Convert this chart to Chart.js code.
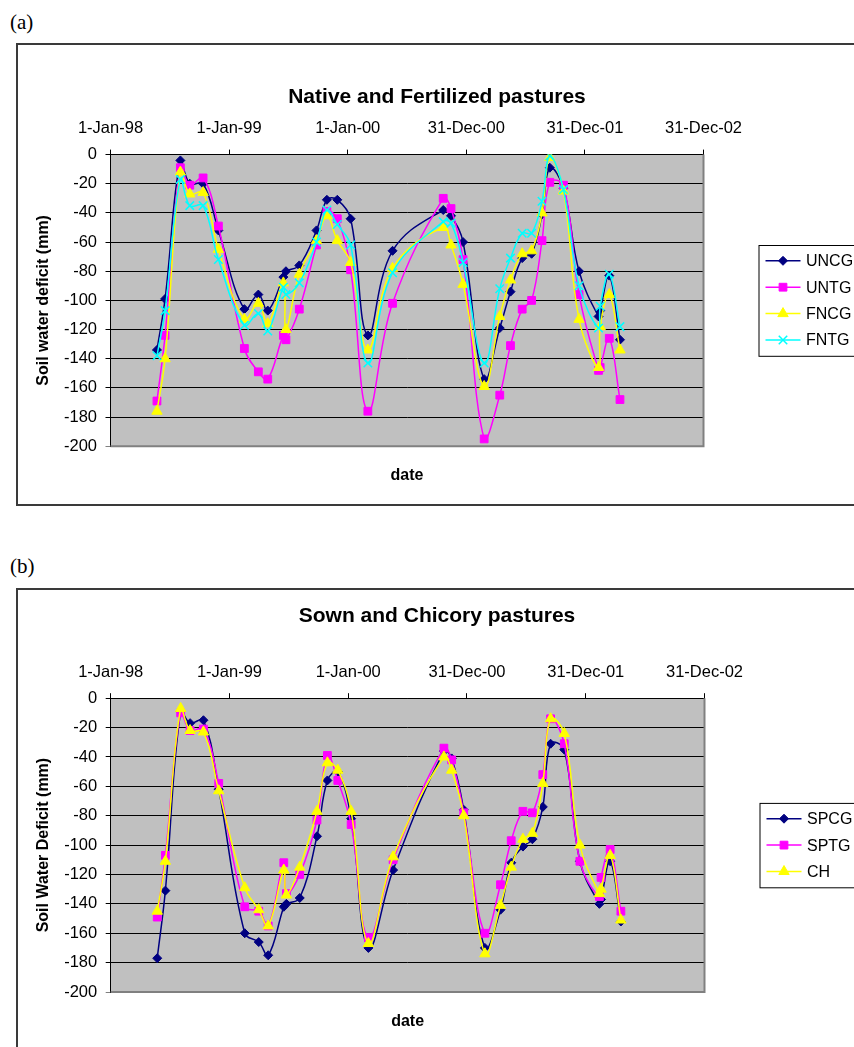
<!DOCTYPE html>
<html>
<head>
<meta charset="utf-8">
<script src="https://cdn.jsdelivr.net/npm/chart.js@4"></script>
<style>
  body { margin: 0; background: #fff; width: 854px; height: 1047px; overflow: hidden; position: relative; }
  .tag { position: absolute; left: 10px; font: 21px "Liberation Serif", "Times New Roman", serif; line-height: 1; }
  .box { position: absolute; left: 16px; width: 838px; height: 459px; border: 2px solid #3a3a3a; background: #fff; }
  .box canvas { display: block; }
</style>
</head>
<body>
<div class="tag" style="top:12px">(a)</div>
<div class="box" style="top:43px"><canvas id="chartA" width="838" height="459"></canvas></div>
<div class="tag" style="top:556px">(b)</div>
<div class="box" style="top:588px"><canvas id="chartB" width="838" height="459"></canvas></div>

<script>
// sampling dates, days after 1-Jan-98
const sampleDays = [143, 168, 215, 244, 285, 332, 412, 455, 484, 532, 540, 581, 634, 666, 698, 739, 792,
  868, 1024, 1048, 1085, 1150, 1198, 1231, 1267, 1296, 1328, 1352, 1394, 1442, 1502, 1507, 1535, 1568];
const tickLabels = ['1-Jan-98', '1-Jan-99', '1-Jan-00', '31-Dec-00', '31-Dec-01', '31-Dec-02'];

// (a) native and fertilized
const uncg = [-134, -99, -4, -20, -20, -52, -106, -96, -107, -84, -80, -76, -52, -31, -31, -44, -124,
  -66, -38, -42, -60, -154, -119, -94, -71, -68, -41, -9, -23, -80, -111, -107, -83, -127];
const untg = [-169, -124, -9, -21, -16, -49, -133, -149, -154, -124, -127, -106, -62, -39, -44, -79, -176,
  -102, -30, -37, -72, -195, -165, -131, -106, -100, -59, -19, -21, -96, -148, -146, -126, -168];
const fncg = [-176, -140, -12, -27, -26, -65, -113, -102, -116, -88, -120, -82, -59, -42, -59, -74, -134,
  -78, -50, -62, -89, -159, -111, -86, -68, -66, -40, -2, -25, -113, -146, -118, -96, -134];
const fntg = [-138, -107, -17, -35, -35, -72, -117, -109, -121, -91, -96, -88, -60, -38, -48, -62, -143,
  -81, -46, -47, -74, -143, -92, -71, -54, -54, -32, -1, -24, -90, -119, -104, -82, -118];

// (b) sown and chicory
const spcg = [-177, -131, -9, -17, -15, -62, -160, -166, -175, -142, -140, -136, -94, -56, -50, -82, -170,
  -117, -36, -41, -76, -170, -144, -112, -101, -96, -74, -31, -35, -111, -140, -137, -111, -152];
const sptg = [-149, -107, -10, -22, -21, -58, -142, -145, -155, -112, -133, -120, -83, -39, -56, -86, -163,
  -110, -34, -42, -78, -160, -127, -97, -77, -78, -52, -14, -31, -111, -135, -122, -103, -145];
const ch = [-145, -111, -7, -22, -23, -63, -129, -144, -155, -117, -134, -115, -77, -44, -49, -77, -167,
  -108, -40, -49, -80, -174, -141, -115, -96, -92, -58, -14, -24, -100, -133, -130, -107, -151];

const FONT = '"Liberation Sans", Arial, sans-serif';

function series(label, values, color, pointStyle, radius, order) {
  return {
    label: label,
    data: values.map((v, i) => ({ x: sampleDays[i], y: v })),
    borderColor: color,
    backgroundColor: color,
    borderWidth: 1.5,
    pointStyle: pointStyle,
    pointRadius: radius,
    pointBorderWidth: pointStyle === 'crossRot' ? 1.5 : 1,
    tension: 0.4,
    order: order
  };
}

// grey plot area + excel style frame
const plotFrame = {
  id: 'plotFrame',
  beforeDraw(chart) {
    const a = chart.chartArea, ctx = chart.ctx;
    ctx.save();
    ctx.fillStyle = '#c0c0c0';
    ctx.fillRect(a.left, a.top, a.right - a.left, a.bottom - a.top);
    ctx.restore();
  },
  beforeDatasetsDraw(chart) {
    const a = chart.chartArea, ctx = chart.ctx;
    ctx.save();
    ctx.strokeStyle = '#808080';
    ctx.lineWidth = 2;
    ctx.beginPath();
    ctx.moveTo(a.right, a.top);
    ctx.lineTo(a.right, a.bottom);
    ctx.lineTo(a.left, a.bottom);
    ctx.stroke();
    ctx.restore();
  }
};

// boxed legend with line + marker, like excel
const boxLegend = {
  id: 'boxLegend',
  afterDraw(chart) {
    const a = chart.chartArea, ctx = chart.ctx;
    const sets = chart.data.datasets;
    const step = 26.4, pad = 15.8;
    const h = pad * 2 + step * (sets.length - 1);
    const left = a.right + 55;
    const top = (a.top + a.bottom) / 2 - h / 2;
    ctx.save();
    ctx.strokeStyle = '#000';
    ctx.lineWidth = 1;
    ctx.strokeRect(left + 0.5, top + 0.5, 200, h);
    sets.forEach((ds, i) => {
      const y = top + pad + i * step;
      ctx.strokeStyle = ds.borderColor;
      ctx.fillStyle = ds.borderColor;
      ctx.lineWidth = 1.5;
      ctx.beginPath();
      ctx.moveTo(left + 7, y);
      ctx.lineTo(left + 42, y);
      ctx.stroke();
      ctx.lineWidth = ds.pointBorderWidth;
      Chart.helpers.drawPoint(ctx, {
        pointStyle: ds.pointStyle, radius: ds.pointRadius, borderWidth: ds.pointBorderWidth, rotation: 0
      }, left + 24.5, y);
      ctx.fillStyle = '#000';
      ctx.font = '16px ' + FONT;
      ctx.textBaseline = 'middle';
      ctx.textAlign = 'left';
      ctx.fillText(ds.label, left + 47.5, y + 1);
    });
    ctx.restore();
  }
};

function makeChart(id, title, yTitle, datasets, lay) {
  return new Chart(document.getElementById(id), {
    type: 'line',
    data: { datasets: datasets },
    options: {
      responsive: false,
      animation: false,
      layout: { padding: 0 },
      plugins: {
        legend: { display: false },
        tooltip: { enabled: false },
        title: {
          display: true,
          text: title,
          color: '#000',
          font: { family: FONT, size: 21, weight: 'bold' },
          padding: { top: lay.titleTop, bottom: 0 }
        }
      },
      scales: {
        x: {
          type: 'linear',
          position: 'top',
          min: 0,
          max: 1825,
          ticks: {
            stepSize: 365,
            autoSkip: false,
            maxRotation: 0,
            padding: 11,
            color: '#000',
            font: { family: FONT, size: 16.5 },
            callback: v => tickLabels[Math.round(v / 365)]
          },
          grid: { drawOnChartArea: false, tickLength: 5, color: '#000' },
          border: { color: '#000', width: 1 },
          afterFit: s => { s.height = lay.topAxis; }
        },
        xDate: {
          type: 'linear',
          position: 'bottom',
          min: 0,
          max: 1825,
          ticks: { display: false },
          grid: { display: false },
          border: { display: false },
          title: {
            display: true,
            text: 'date',
            color: '#000',
            font: { family: FONT, size: 16, weight: 'bold' },
            padding: { top: 0, bottom: lay.dateBottom }
          },
          afterFit: s => { s.height = lay.bottomAxis; }
        },
        y: {
          min: -200,
          max: 0,
          ticks: {
            stepSize: 20,
            padding: 8.5,
            color: '#000',
            font: { family: FONT, size: 16.5 }
          },
          grid: {
            tickLength: 5,
            color: c => (c.tick && c.tick.value === -200) ? '#808080' : '#000'
          },
          border: { color: '#000', width: 1 },
          title: {
            display: true,
            text: yTitle,
            color: '#000',
            font: { family: FONT, size: 16, weight: 'bold' },
            padding: { top: 16.4, bottom: 0 }
          },
          afterFit: s => { s.width = lay.leftAxis; }
        },
        yPad: {
          type: 'linear',
          position: 'right',
          ticks: { display: false },
          grid: { display: false },
          border: { display: false },
          afterFit: s => { s.width = lay.rightSpace; }
        }
      }
    },
    plugins: [plotFrame, boxLegend]
  });
}

makeChart('chartA', 'Native and Fertilized pastures', 'Soil water deficit (mm)', [
  series('UNCG', uncg, '#000080', 'rectRot', 4.5, 4),
  series('UNTG', untg, '#ff00ff', 'rect', 5.5, 3),
  series('FNCG', fncg, '#ffff00', 'triangle', 6, 2),
  series('FNTG', fntg, '#00ffff', 'crossRot', 6, 1)
], { titleTop: 39.2, topAxis: 45.2, bottomAxis: 57.8, dateBottom: 18.7, leftAxis: 92.5, rightSpace: 152.5 });

makeChart('chartB', 'Sown and Chicory pastures', 'Soil Water Deficit (mm)', [
  series('SPCG', spcg, '#000080', 'rectRot', 4.5, 3),
  series('SPTG', sptg, '#ff00ff', 'rect', 5.5, 2),
  series('CH', ch, '#ffff00', 'triangle', 6, 1)
], { titleTop: 13.2, topAxis: 69.8, bottomAxis: 57, dateBottom: 17.7, leftAxis: 92.7, rightSpace: 151.5 });
</script>
</body>
</html>
